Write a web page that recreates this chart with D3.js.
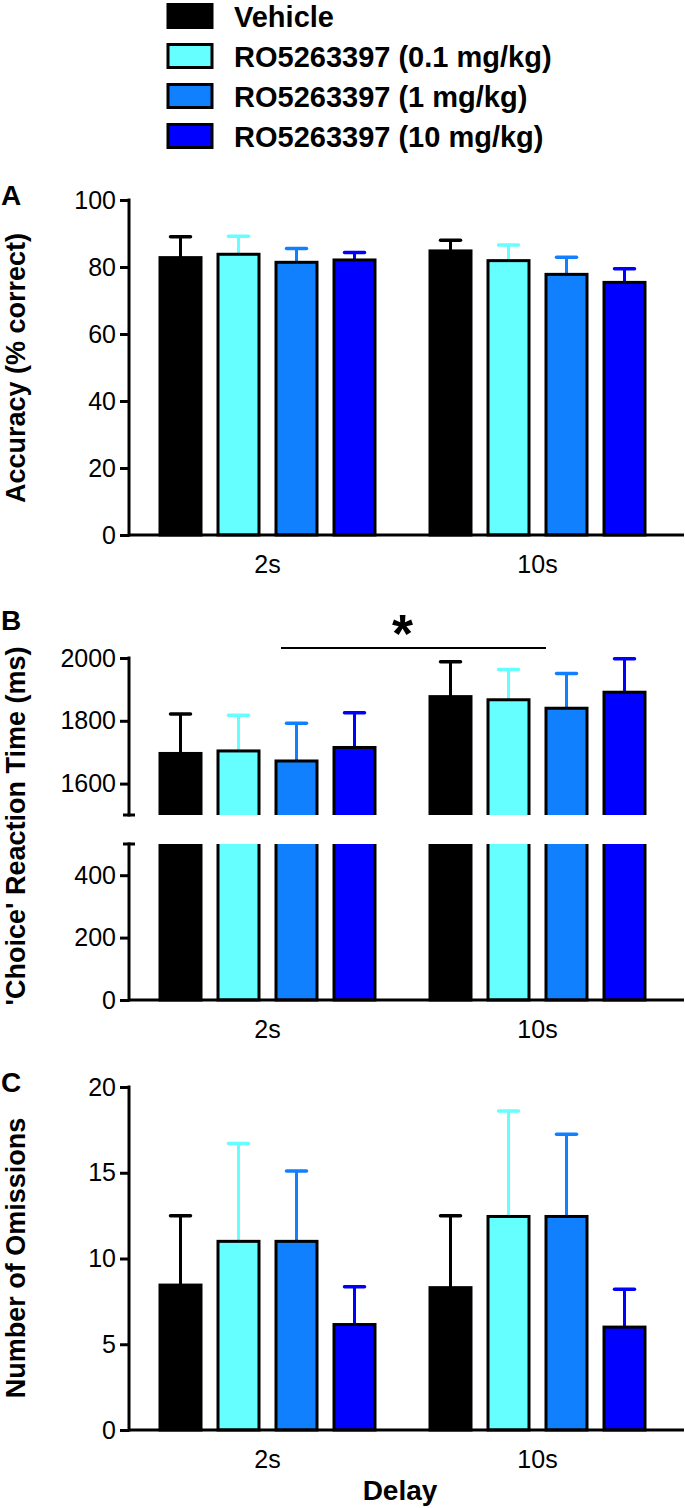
<!DOCTYPE html>
<html>
<head>
<meta charset="utf-8">
<script src="https://cdn.jsdelivr.net/npm/d3@7"></script>
<style>
  html, body { margin: 0; padding: 0; background: #fff; }
  svg { display: block; }
  text { font-family: "Liberation Sans", Arial, sans-serif; fill: #000; }
</style>
</head>
<body>
<svg id="chart" width="685" height="1508"></svg>
<script>
// ---------- DATA ----------
const delays = ["2s", "10s"];
const series = ["Vehicle", "RO5263397 (0.1 mg/kg)", "RO5263397 (1 mg/kg)", "RO5263397 (10 mg/kg)"];
const colors = ["#000000", "#66FFFF", "#1080FF", "#0000FF"];

// Panel A: accuracy (% correct), mean and SEM per delay (order of series)
const accuracyMean = { "2s": [82.8, 83.8, 81.4, 82.1], "10s": [84.8, 81.9, 77.8, 75.4] };
const accuracySem  = { "2s": [6.2, 5.4, 4.1, 2.2],     "10s": [3.2, 4.7, 5.1, 4.1] };
const accuracyTicks = [0, 20, 40, 60, 80, 100];

// Panel B: 'Choice' reaction time (ms)
const rtMean = { "2s": [1696, 1704, 1672, 1715], "10s": [1877, 1867, 1840, 1891] };
const rtSem  = { "2s": [126, 114, 120, 111],     "10s": [111, 96, 111, 107] };
const rtTicksUpper = [1600, 1800, 2000];
const rtTicksLower = [0, 200, 400];

// Panel C: number of omissions
const omMean = { "2s": [8.45, 11.0, 11.0, 6.15], "10s": [8.3, 12.45, 12.45, 6.0] };
const omSem  = { "2s": [4.05, 5.7, 4.1, 2.2],    "10s": [4.2, 6.15, 4.8, 2.2] };
const omTicks = [0, 5, 10, 15, 20];

// ---------- LAYOUT ----------
const svg = d3.select("#chart");
const axisX = 129, rightX = 684;

const x0 = d3.scaleBand().domain(delays).range([122, 683])
  .paddingInner(55 / 270).paddingOuter(38 / 270);
const x1 = d3.scaleBand().domain(series).range([0, x0.bandwidth()])
  .paddingInner(17 / 58).paddingOuter(0);

const rows = [];
delays.forEach(d => series.forEach((s, i) => rows.push({ d, s, i })));

// ---------- LEGEND ----------
const legend = svg.append("g");
series.forEach((s, i) => {
  const yb = 26.5 + i * 40;
  legend.append("rect")
    .attr("x", 168).attr("y", yb - 22).attr("width", 44).attr("height", 23)
    .attr("fill", colors[i]).attr("stroke", "#000").attr("stroke-width", 3);
  legend.append("text")
    .attr("x", 234).attr("y", yb)
    .attr("font-size", 29).attr("font-weight", "bold")
    .text(s);
});

// ---------- helpers ----------
function yAxis(g, y, ticks, opts = {}) {
  const ax = d3.axisLeft(y).tickValues(ticks).tickSize(9).tickPadding(4).tickFormat(d3.format("d"));
  const ga = g.append("g").attr("transform", `translate(${axisX},0)`).call(ax);
  ga.select(".domain").remove();
  ga.selectAll(".tick line").attr("stroke", "#000").attr("stroke-width", 3);
  ga.selectAll(".tick text").attr("font-size", 25).attr("font-family", "'Liberation Sans', Arial, sans-serif").attr("fill", "#000");
  const r = y.range();
  g.append("line").attr("x1", axisX).attr("x2", axisX)
    .attr("y1", r[1]).attr("y2", r[0]).attr("stroke", "#000").attr("stroke-width", 3)
    .attr("stroke-linecap", "square");
  if (opts.capBottom) {
    g.append("line").attr("x1", axisX - 6).attr("x2", axisX + 6)
      .attr("y1", r[0]).attr("y2", r[0]).attr("stroke", "#000").attr("stroke-width", 3);
  }
  if (opts.capTop) {
    g.append("line").attr("x1", axisX - 6).attr("x2", axisX + 6)
      .attr("y1", r[1]).attr("y2", r[1]).attr("stroke", "#000").attr("stroke-width", 3);
  }
}

function xAxis(g, yPix) {
  g.append("line").attr("x1", axisX).attr("x2", rightX)
    .attr("y1", yPix).attr("y2", yPix).attr("stroke", "#000").attr("stroke-width", 3);
  g.selectAll(".xlab").data(delays).enter().append("text")
    .attr("x", d => x0(d) + x0.bandwidth() / 2)
    .attr("y", yPix + 38)
    .attr("text-anchor", "middle").attr("font-size", 25)
    .text(d => d);
}

function errorBars(g, y, mean, sem) {
  const eb = g.append("g");
  rows.forEach(r => {
    const cx = x0(r.d) + x1(r.s) + x1.bandwidth() / 2;
    const m = mean[r.d][r.i], top = m + sem[r.d][r.i];
    eb.append("line").attr("x1", cx).attr("x2", cx)
      .attr("y1", y(m)).attr("y2", y(top))
      .attr("stroke", colors[r.i]).attr("stroke-width", 3);
    eb.append("line").attr("x1", cx - 10).attr("x2", cx + 10)
      .attr("y1", y(top)).attr("y2", y(top))
      .attr("stroke", colors[r.i]).attr("stroke-width", 3.5).attr("stroke-linecap", "round");
  });
}

function bars(g, y, mean, base, clipId) {
  const bg = g.append("g");
  if (clipId) bg.attr("clip-path", `url(#${clipId})`);
  bg.selectAll("rect").data(rows).enter().append("rect")
    .attr("x", r => x0(r.d) + x1(r.s))
    .attr("width", x1.bandwidth())
    .attr("y", r => y(mean[r.d][r.i]))
    .attr("height", r => y(base) - y(mean[r.d][r.i]))
    .attr("fill", r => colors[r.i])
    .attr("stroke", "#000").attr("stroke-width", 3);
}

function panelLetter(txt, yb) {
  svg.append("text").attr("x", 1).attr("y", yb)
    .attr("font-size", 28).attr("font-weight", "bold").text(txt);
}

function yTitle(txt, cy) {
  svg.append("text")
    .attr("transform", `translate(25,${cy}) rotate(-90)`)
    .attr("text-anchor", "middle")
    .attr("font-size", 27).attr("font-weight", "bold")
    .text(txt);
}

const defs = svg.append("defs");

// ---------- PANEL A ----------
const yA = d3.scaleLinear().domain([0, 100]).range([535, 200]);
const gA = svg.append("g");
errorBars(gA, yA, accuracyMean, accuracySem);
bars(gA, yA, accuracyMean, 0);
yAxis(gA, yA, accuracyTicks);
xAxis(gA, yA(0));
panelLetter("A", 205);
yTitle("Accuracy (% correct)", 368);

// ---------- PANEL B (broken axis) ----------
const yBu = d3.scaleLinear().domain([1500, 2000]).range([815, 658]);
const yBl = d3.scaleLinear().domain([0, 500]).range([1000, 844]);
const gB = svg.append("g");
defs.append("clipPath").attr("id", "clipUpper").append("rect")
  .attr("x", axisX).attr("y", 560).attr("width", rightX - axisX).attr("height", yBu(1500) - 560);
defs.append("clipPath").attr("id", "clipLower").append("rect")
  .attr("x", axisX).attr("y", yBl(500)).attr("width", rightX - axisX).attr("height", yBl(0) - yBl(500) + 5);
errorBars(gB, yBu, rtMean, rtSem);
bars(gB, yBu, rtMean, 1450, "clipUpper");
// lower segment: bars run through the break (clipped at 500 ms)
const rtLowerTop = { "2s": rtMean["2s"].map(() => 600), "10s": rtMean["10s"].map(() => 600) };
bars(gB, yBl, rtLowerTop, 0, "clipLower");
yAxis(gB, yBu, rtTicksUpper, { capBottom: true });
yAxis(gB, yBl, rtTicksLower, { capTop: true });
xAxis(gB, yBl(0));
panelLetter("B", 630);
yTitle("'Choice' Reaction Time (ms)", 826);

// significance annotation between delays
const sigX1 = x0("2s") + x1(series[2]) + 5;
const sigX2 = x0("10s") + x1(series[2]);
const sigY = yBu(2000) - 10;
gB.append("line").attr("x1", sigX1).attr("x2", sigX2).attr("y1", sigY).attr("y2", sigY)
  .attr("stroke", "#000").attr("stroke-width", 2);
gB.append("text")
  .attr("x", (x0("2s") + x0.bandwidth() + x0("10s")) / 2)
  .attr("y", sigY + 4)
  .attr("text-anchor", "middle").attr("font-size", 54).attr("font-weight", "bold")
  .text("*");

// ---------- PANEL C ----------
const yC = d3.scaleLinear().domain([0, 20]).range([1430, 1087]);
const gC = svg.append("g");
errorBars(gC, yC, omMean, omSem);
bars(gC, yC, omMean, 0);
yAxis(gC, yC, omTicks);
xAxis(gC, yC(0));
panelLetter("C", 1092);
yTitle("Number of Omissions", 1258);

svg.append("text").attr("x", 400).attr("y", 1500)
  .attr("text-anchor", "middle").attr("font-size", 28).attr("font-weight", "bold")
  .text("Delay");
</script>
</body>
</html>
